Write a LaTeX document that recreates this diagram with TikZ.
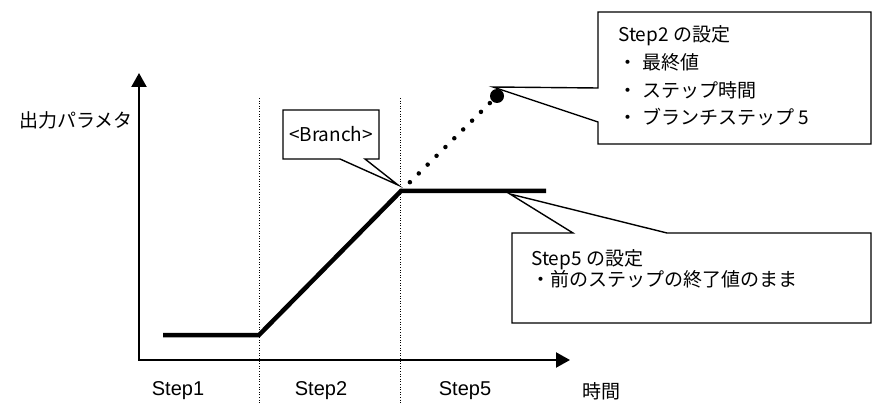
\documentclass[tikz,border=0pt]{standalone}
\usepackage{fontspec}
\setmainfont{Liberation Sans}
\newfontfamily\jp{Noto Sans CJK JP}
\usetikzlibrary{arrows.meta}
\begin{document}
\begin{tikzpicture}[x=1pt,y=-1pt,
  axisline/.style={line width=2.2pt, {Triangle[length=14pt,width=15pt]}-{Triangle[length=14pt,width=15pt]}},
  guide/.style={line width=1pt, dash pattern=on 1pt off 1.6pt},
  profile/.style={line width=4.5pt},
  branchdots/.style={line width=4.5pt, dash pattern=on 0pt off 12.5pt, line cap=round},
  callout/.style={draw, fill=white, line width=1.4pt},
  jptext/.style={font=\jp\fontsize{19}{24}\selectfont, inner sep=0pt},
  steplabel/.style={font=\fontsize{20}{24}\selectfont, inner sep=0pt}]
\useasboundingbox (0,0) rectangle (872,403);

% axes
\coordinate (ytop) at (139,73);
\coordinate (origin) at (139,360);
\coordinate (xend) at (570,360);
\draw[axisline] (ytop) -- (origin) -- (xend);

% step boundaries
\coordinate (g1t) at (259,98);
\coordinate (g1b) at (259,403);
\coordinate (g2t) at (400,98);
\coordinate (g2b) at (400,403);
\draw[guide] (g1t) -- (g1b);
\draw[guide] (g2t) -- (g2b);

% output profile
\coordinate (p0) at (163,335);
\coordinate (p1) at (259,335);
\coordinate (p2) at (401,191);
\coordinate (p3) at (546,191);
\draw[profile] (p0) -- (p1) -- (p2) -- (p3);
\node[circle, fill, inner sep=0pt, minimum size=14pt] (bigdot) at (497,96) {};
\draw[branchdots] (p2) -- (bigdot.center);

% Branch callout
\coordinate (b1) at (283,110);
\coordinate (b2) at (379,110);
\coordinate (b3) at (379,159);
\coordinate (b4) at (365,159);
\coordinate (btip) at (398,185);
\coordinate (b5) at (340,159);
\coordinate (b6) at (283,159);
\draw[callout] (b1) -- (b2) -- (b3) -- (b4) -- (btip) -- (b5) -- (b6) -- cycle;
\node[jptext] (branch) at (331,134) {<Branch>};

% Step2 callout
\coordinate (s1) at (598,12);
\coordinate (s2) at (871,12);
\coordinate (s3) at (871,144);
\coordinate (s4) at (598,144);
\coordinate (s5) at (598,122);
\coordinate (stip) at (493,87);
\coordinate (s6) at (598,88);
\draw[callout] (s1) -- (s2) -- (s3) -- (s4) -- (s5) -- (stip) -- (s6) -- cycle;
\node[jptext, anchor=west, align=left, font=\jp\fontsize{19}{27.6}\selectfont] (step2set) at (618,76)
  {Step2 の設定\\ ・\hspace{5pt}最終値\\ ・\hspace{5pt}ステップ時間\\ ・\hspace{5pt}ブランチステップ 5};

% Step5 callout
\coordinate (t1) at (512,233);
\coordinate (t2) at (573,233);
\coordinate (ttip) at (510,194);
\coordinate (t3) at (667,233);
\coordinate (t4) at (871,233);
\coordinate (t5) at (871,323);
\coordinate (t6) at (512,323);
\draw[callout] (t1) -- (t2) -- (ttip) -- (t3) -- (t4) -- (t5) -- (t6) -- cycle;
\node[jptext, anchor=west, align=left, font=\jp\fontsize{19}{20}\selectfont] (step5set) at (531,269)
  {Step5 の設定\\ ・前のステップの終了値のまま};

% axis labels
\node[jptext, anchor=east] (ylabel) at (133,120) {出力パラメタ};
\node[jptext] (xlabel) at (601,391) {時間};
\node[steplabel] (st1) at (178,391) {Step1};
\node[steplabel] (st2) at (321,391) {Step2};
\node[steplabel] (st5) at (465,391) {Step5};
\end{tikzpicture}
\end{document}
